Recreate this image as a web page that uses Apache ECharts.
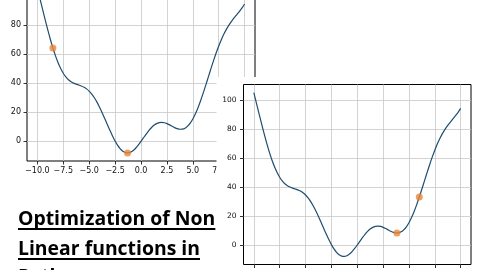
<!DOCTYPE html>
<html>
<head>
<meta charset="utf-8">
<script src="https://cdn.jsdelivr.net/npm/echarts@6/dist/echarts.min.js"></script>
<style>html,body{margin:0;padding:0;background:#fff}#c{width:480px;height:270px}</style>
</head>
<body>
<div id="c"></div>
<script>
// ---- data ----
var xValues = [-10,-9.75,-9.5,-9.25,-9,-8.75,-8.5,-8.25,-8,-7.75,-7.5,-7.25,-7,-6.75,-6.5,-6.25,-6,-5.75,-5.5,-5.25,-5,-4.75,-4.5,-4.25,-4,-3.75,-3.5,-3.25,-3,-2.75,-2.5,-2.25,-2,-1.75,-1.5,-1.25,-1,-0.75,-0.5,-0.25,0,0.25,0.5,0.75,1,1.25,1.5,1.75,2,2.25,2.5,2.75,3,3.25,3.5,3.75,4,4.25,4.5,4.75,5,5.25,5.5,5.75,6,6.25,6.5,6.75,7,7.25,7.5,7.75,8,8.25,8.5,8.75,9,9.25,9.5,9.75,10];
var yValues = [105.44,98.26,91.00,83.82,76.88,70.31,64.26,58.84,54.11,50.12,46.87,44.33,42.43,41.06,40.10,39.39,38.79,38.15,37.31,36.15,34.59,32.56,30.03,27.01,23.57,19.78,15.76,11.64,7.59,3.75,0.27,-2.72,-5.09,-6.78,-7.72,-7.93,-7.41,-6.25,-4.54,-2.41,0,2.54,5.04,7.38,9.41,11.05,12.22,12.90,13.09,12.84,12.23,11.38,10.41,9.48,8.74,8.35,8.43,9.11,10.47,12.57,15.41,18.97,23.19,27.98,33.21,38.73,44.40,50.06,55.57,60.80,65.63,70.01,73.89,77.29,80.24,82.81,85.12,87.30,89.50,91.87,94.56];
var pointsLeftX = [-8.5, -1.3];
var pointsLeftY = [64.3, -7.95];
var pointsRightX = [3.84, 6.0];
var pointsRightY = [8.32, 33.2];
var xTicks = [-10,-7.5,-5,-2.5,0,2.5,5,7.5,10];
var yTicks = [0,20,40,60,80,100];
var titleLines = ['Optimization of Non', 'Linear functions in', 'Python'];

var lineData = xValues.map(function (x, i) { return [x, yValues[i]]; });
var ptsL = pointsLeftX.map(function (x, i) { return [x, pointsLeftY[i]]; });
var ptsR = pointsRightX.map(function (x, i) { return [x, pointsRightY[i]]; });

var LINE = '#1f4d6e', ORANGE = '#e8873a', GRIDC = '#c8c8c8';
var FONT = 'DejaVu Sans';
var XMIN = -11, XMAX = 11, YMIN = -13.5, YMAX = 111.1;
function fmtX(v) { var s = Math.abs(v).toFixed(1); return (v < 0 ? '\u2212' : '') + s; }
function fmtY(v) { return (v < 0 ? '\u2212' : '') + Math.abs(v); }

// grid-line colour cycles: x step 0.5 from -11 (every 5th is a tick), y step 0.5 from -13.5 (every 40th)
var xCycle = [], yCycle = [];
for (var i = 0; i < 5; i++) xCycle.push(i === 2 ? GRIDC : 'rgba(0,0,0,0)');
for (var j = 0; j < 40; j++) yCycle.push(j === 27 ? GRIDC : 'rgba(0,0,0,0)');

function xAxisCfg(gi, z, fs, margin) {
  return {
    type: 'value', gridIndex: gi, min: XMIN, max: XMAX, z: z, position: 'bottom',
    axisLine: { show: false, onZero: false },
    axisTick: { show: true, inside: false, length: 3.5, lineStyle: { color: '#000', width: 0.8 }, customValues: xTicks },
    axisLabel: { show: true, customValues: xTicks, formatter: fmtX, fontFamily: FONT, fontSize: fs, color: '#111', margin: margin },
    splitLine: { show: false }
  };
}
function yAxisCfg(gi, z, fs, margin) {
  return {
    type: 'value', gridIndex: gi, min: YMIN, max: YMAX, z: z, position: 'left',
    axisLine: { show: false, onZero: false },
    axisTick: { show: true, inside: false, length: 3.5, lineStyle: { color: '#000', width: 0.8 }, customValues: yTicks },
    axisLabel: { show: true, customValues: yTicks, formatter: fmtY, fontFamily: FONT, fontSize: fs, color: '#111', margin: margin },
    splitLine: { show: false }
  };
}
function xGridAxis(gi, z) {
  return {
    type: 'value', gridIndex: gi, min: XMIN, max: XMAX, interval: 0.5, z: z, position: 'top',
    axisLine: { show: false, onZero: false }, axisTick: { show: false }, axisLabel: { show: false },
    splitLine: { show: true, showMinLine: true, showMaxLine: true, lineStyle: { color: xCycle, width: 0.8 } }
  };
}
function yGridAxis(gi, z) {
  return {
    type: 'value', gridIndex: gi, min: YMIN, max: YMAX, interval: 0.5, z: z, position: 'right',
    axisLine: { show: false, onZero: false }, axisTick: { show: false }, axisLabel: { show: false },
    splitLine: { show: true, showMinLine: true, showMaxLine: true, lineStyle: { color: yCycle, width: 0.8 } }
  };
}

var chart = echarts.init(document.getElementById('c'), null, { renderer: 'canvas' });

// title with underlines sized from the measured text
var ctx = document.createElement('canvas').getContext('2d');
var TSIZE = 19.4;
var TFONT = 'bold ' + TSIZE + 'px "Open Sans"';
ctx.font = TFONT;
var graphics = [];
var baseY = [224, 254, 282];
titleLines.forEach(function (t, i) {
  graphics.push({ type: 'text', z: 1, x: 18, y: baseY[i] + 5, style: { text: t, font: TFONT, fill: '#000', verticalAlign: 'bottom' } });
  var w = ctx.measureText(t).width;
  graphics.push({ type: 'rect', z: 1, shape: { x: 18, y: baseY[i] + 4, width: w, height: 2 }, style: { fill: '#000' } });
});
graphics.push({ type: 'rect', z: 5, shape: { x: 216.5, y: 77, width: 270, height: 200 }, style: { fill: '#fff' } });

chart.setOption({
  animation: false,
  backgroundColor: '#fff',
  graphic: graphics,
  grid: [
    { left: 27, top: -20, width: 228, height: 181, outerBoundsMode: 'none', containLabel: false, show: true, borderColor: '#000', borderWidth: 1, backgroundColor: 'rgba(0,0,0,0)', z: 1 },
    { left: 243.5, top: 84.5, width: 227.5, height: 180, outerBoundsMode: 'none', containLabel: false, show: true, borderColor: '#000', borderWidth: 1, backgroundColor: 'rgba(0,0,0,0)', z: 6 }
  ],
  xAxis: [xAxisCfg(0, 1, 8, 5.5), xAxisCfg(1, 6, 7.5, 6), xGridAxis(0, 1), xGridAxis(1, 6)],
  yAxis: [yAxisCfg(0, 1, 8, 6), yAxisCfg(1, 6, 7.5, 7), yGridAxis(0, 1), yGridAxis(1, 6)],
  series: [
    { type: 'line', xAxisIndex: 0, yAxisIndex: 0, data: lineData, showSymbol: false, smooth: 0.3, z: 2, lineStyle: { color: LINE, width: 1.2 } },
    { type: 'scatter', xAxisIndex: 0, yAxisIndex: 0, data: ptsL, symbolSize: 7, z: 3, itemStyle: { color: ORANGE } },
    { type: 'line', xAxisIndex: 1, yAxisIndex: 1, data: lineData, showSymbol: false, smooth: 0.3, z: 7, lineStyle: { color: LINE, width: 1.2 } },
    { type: 'scatter', xAxisIndex: 1, yAxisIndex: 1, data: ptsR, symbolSize: 7, z: 8, itemStyle: { color: ORANGE } }
  ]
});
</script>
</body>
</html>
